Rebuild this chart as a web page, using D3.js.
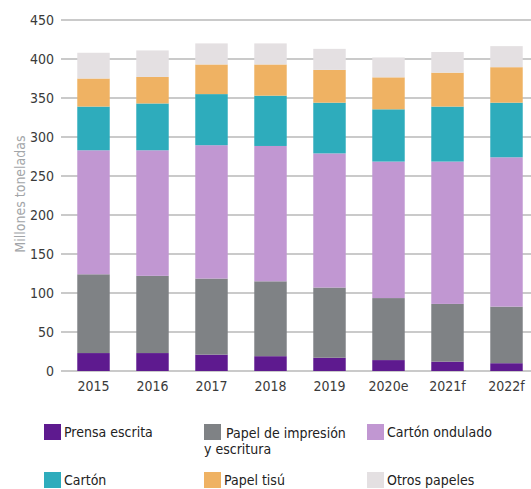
<!DOCTYPE html>
<html>
<head>
<meta charset="utf-8">
<script src="https://cdn.jsdelivr.net/npm/d3@7"></script>
<style>
  body { margin: 0; background: #fff; }
  text { font-family: "DejaVu Sans Condensed", "Liberation Sans Narrow", "Roboto", sans-serif; font-stretch: condensed; }
</style>
</head>
<body>
<div id="viz"></div>
<script>
const years = ["2015", "2016", "2017", "2018", "2019", "2020e", "2021f", "2022f"];
const seriesNames = ["Prensa escrita", "Papel de impresión y escritura", "Cartón ondulado", "Cartón", "Papel tisú", "Otros papeles"];
const prensa   = [23, 23, 21, 19, 17, 14, 12, 10];
const impresion = [101, 99, 97.5, 96, 90, 79.5, 74, 72.5];
const ondulado = [159, 161, 171, 173.5, 172, 175, 182.5, 191.5];
const carton   = [56, 60, 65.5, 64.5, 65, 67, 70.5, 70];
const tisu     = [36, 34, 38, 40, 42, 41, 43.5, 45.5];
const otros    = [33, 34, 27, 27, 27, 25.5, 26.5, 27];
const yTicks = [0, 50, 100, 150, 200, 250, 300, 350, 400, 450];
const colors = ["#5e1a8f", "#7f8285", "#c197d2", "#2eacbc", "#efb263", "#e4e0e2"];

const width = 531, height = 489;
const keys = ["prensa", "impresion", "ondulado", "carton", "tisu", "otros"];
const rows = years.map((y, i) => ({
  year: y, prensa: prensa[i], impresion: impresion[i], ondulado: ondulado[i],
  carton: carton[i], tisu: tisu[i], otros: otros[i]
}));

const svg = d3.select("#viz").append("svg")
  .attr("width", width)
  .attr("height", height);

const x = d3.scaleBand()
  .domain(years)
  .range([64, 536])
  .paddingInner(0.45)
  .paddingOuter(0.225);

const y = d3.scaleLinear()
  .domain([0, 450])
  .range([371, 20]);

// grid lines
svg.append("g")
  .selectAll("line")
  .data(yTicks)
  .enter()
  .append("line")
  .attr("x1", 61)
  .attr("x2", 531)
  .attr("y1", d => y(d))
  .attr("y2", d => y(d))
  .attr("stroke", "#b9b9b9")
  .attr("stroke-width", 1.5);

const stack = d3.stack().keys(keys)(rows);

svg.append("g")
  .selectAll("g")
  .data(stack)
  .enter()
  .append("g")
  .attr("fill", (d, i) => colors[i])
  .selectAll("rect")
  .data(d => d)
  .enter()
  .append("rect")
  .attr("x", d => x(d.data.year))
  .attr("width", x.bandwidth())
  .attr("y", d => y(d[1]))
  .attr("height", d => y(d[0]) - y(d[1]));

// y tick labels
svg.append("g")
  .selectAll("text")
  .data(yTicks)
  .enter()
  .append("text")
  .attr("x", 54)
  .attr("y", d => y(d))
  .attr("dy", "0.36em")
  .attr("text-anchor", "end")
  .attr("font-size", 14)
  .attr("fill", "#3a3a3a")
  .text(d => d);

// x labels
svg.append("g")
  .selectAll("text")
  .data(years)
  .enter()
  .append("text")
  .attr("x", d => x(d) + x.bandwidth() / 2)
  .attr("y", 391)
  .attr("text-anchor", "middle")
  .attr("font-size", 14)
  .attr("fill", "#3a3a3a")
  .text(d => d);

// axis title
svg.append("text")
  .attr("transform", "translate(25,194) rotate(-90)")
  .attr("text-anchor", "middle")
  .attr("font-size", 14)
  .attr("fill", "#a2a5a8")
  .text("Millones toneladas");

// legend
const legendPos = [
  [44, 424], [204, 424], [367, 424],
  [44, 472], [204, 472], [367, 472]
];
const legend = svg.append("g")
  .selectAll("g")
  .data(seriesNames)
  .enter()
  .append("g")
  .attr("transform", (d, i) => `translate(${legendPos[i][0]},${legendPos[i][1]})`);

legend.append("rect")
  .attr("width", 17)
  .attr("height", 16)
  .attr("fill", (d, i) => colors[i]);

legend.each(function (d, i) {
  const t = d3.select(this).append("text")
    .attr("font-size", 14)
    .attr("fill", "#222");
  if (i === 1) {
    t.append("tspan").attr("x", 22).attr("y", 14).text("Papel de impresión");
    t.append("tspan").attr("x", 0).attr("y", 30).text("y escritura");
  } else {
    t.attr("x", 20).attr("y", 13).text(d);
  }
});
</script>
</body>
</html>
